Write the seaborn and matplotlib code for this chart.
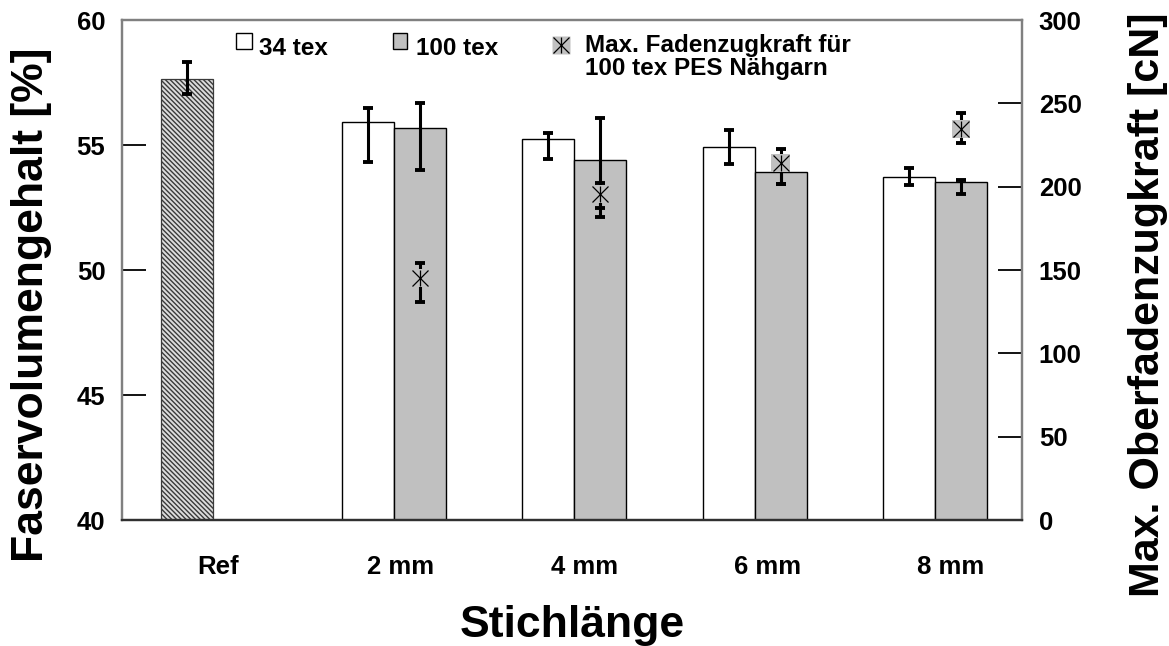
import numpy as np
import pandas as pd
import matplotlib
matplotlib.use("Agg")
import matplotlib.pyplot as plt
import seaborn as sns
from matplotlib.patches import Rectangle

# --- data -------------------------------------------------------------
categories = ["Ref", "2 mm", "4 mm", "6 mm", "8 mm"]
series = ["34 tex", "100 tex"]

ref_value = 57.65
ref_lo, ref_hi = 57.03, 58.34

tex34 = [55.93, 55.23, 54.94, 53.73]
tex34_lo = [54.33, 54.46, 54.23, 53.39]
tex34_hi = [56.49, 55.49, 55.62, 54.10]

tex100 = [55.69, 54.39, 53.93, 53.51]
tex100_lo = [54.02, 52.48, 53.45, 53.04]
tex100_hi = [56.69, 56.10, 54.02, 53.59]

force = [145.0, 195.4, 214.3, 234.5]
force_lo = [130.9, 182.1, 201.4, 226.0]
force_hi = [154.0, 202.2, 222.9, 244.0]

left_ticks = [40, 45, 50, 55, 60]
right_ticks = [0, 50, 100, 150, 200, 250, 300]

# --- long table for seaborn ------------------------------------------
rows = [{"Stichlänge": categories[0], "Garn": series[0], "FVG": ref_value}]
for cat, v34, v100 in zip(categories[1:], tex34, tex100):
    rows.append({"Stichlänge": cat, "Garn": series[0], "FVG": v34})
    rows.append({"Stichlänge": cat, "Garn": series[1], "FVG": v100})
df = pd.DataFrame(rows)

# --- styling ----------------------------------------------------------
sns.set_theme(style="white")
plt.rcParams["font.family"] = ["Liberation Sans", "DejaVu Sans"]
plt.rcParams["font.weight"] = "bold"
plt.rcParams["axes.labelweight"] = "bold"
plt.rcParams["text.color"] = "black"
plt.rcParams["axes.labelcolor"] = "black"
plt.rcParams["xtick.color"] = "black"
plt.rcParams["ytick.color"] = "black"

WHITE = "#ffffff"
GREY = "#c0c0c0"
FRAME = "#808080"
group_width = 0.577

fig = plt.figure(figsize=(11.69, 6.46), dpi=100)
ax = fig.add_axes([0.1044, 0.195, 0.77, 0.774])

sns.barplot(data=df, x="Stichlänge", y="FVG", hue="Garn", order=categories,
            hue_order=series, palette=[WHITE, GREY], width=group_width,
            edgecolor="black", linewidth=1.0, errorbar=None, legend=False,
            ax=ax, zorder=2)

# the reference bar gets a fine texture
ref_patch = min(ax.patches, key=lambda p: p.get_x())
ref_patch.set_facecolor("#dcdcdc")
ref_patch.set_hatch("\\\\\\\\\\\\\\")
ref_patch.set_edgecolor("#3a3a3a")
ref_patch.set_linewidth(0.9)

# bar positions follow the dodge used by seaborn
idx = np.arange(1, len(categories))
off = group_width / 4
x34 = idx - off
x100 = idx + off

eb = dict(fmt="none", ecolor="black", elinewidth=2.2, capsize=3.3,
          capthick=2.8, zorder=4)
ax.errorbar([0 - off], [ref_value],
            yerr=[[ref_value - ref_lo], [ref_hi - ref_value]], **eb)
ax.errorbar(x34, tex34,
            yerr=[np.subtract(tex34, tex34_lo), np.subtract(tex34_hi, tex34)], **eb)
ax.errorbar(x100, tex100,
            yerr=[np.subtract(tex100, tex100_lo), np.subtract(tex100_hi, tex100)], **eb)

ax.set_ylim(40, 60)
ax.set_xlim(-0.507, 4.484)
ax.set_yticks(left_ticks)
ax.set_yticklabels([str(t) for t in left_ticks])
ax.set_xticks(np.arange(len(categories)) * 1.015 + 0.025)
ax.set_xticklabels(categories)
ax.tick_params(axis="y", direction="in", length=17, width=1.3, color="black",
               labelsize=18.5, pad=12, left=True)
ax.tick_params(axis="x", length=0, labelsize=18.5, pad=25)
ax.set_xlabel("Stichlänge", fontsize=32, fontweight="bold", labelpad=19)
ax.set_ylabel("Faservolumengehalt [%]", fontsize=32, fontweight="bold")
ax.yaxis.set_label_coords(-0.078, 0.43)
for side, sp in ax.spines.items():
    sp.set_visible(True)
    sp.set_color(FRAME)
    sp.set_linewidth(1.6)
ax.spines["bottom"].set_color("#303030")

# --- secondary axis: thread tension ------------------------------------
ax2 = ax.twinx()
ax2.set_ylim(0, 300)
ax2.set_yticks(right_ticks)
ax2.set_yticklabels([str(t) for t in right_ticks])
ax2.tick_params(axis="y", direction="in", length=17, width=1.3, color="black",
                labelsize=18.5, pad=12, right=True)
ax2.set_ylabel("Max. Oberfadenzugkraft [cN]", fontsize=31, fontweight="bold",
               rotation=90)
ax2.yaxis.set_label_coords(1.118, 0.43)
for sp in ax2.spines.values():
    sp.set_color(FRAME)
    sp.set_linewidth(1.6)
ax2.spines["bottom"].set_color("#303030")

ax2.errorbar(x100, force,
             yerr=[np.subtract(force, force_lo), np.subtract(force_hi, force)],
             fmt="none", ecolor="black", elinewidth=2.2, capsize=3.3,
             capthick=2.8, zorder=3)
sns.scatterplot(x=x100, y=force, marker="s", s=170, color=GREY,
                edgecolor="none", ax=ax2, zorder=5, legend=False)
for m in ("x", "|"):
    ax2.plot(x100, force, linestyle="none", marker=m, markersize=12,
             markeredgecolor="black", markeredgewidth=0.9, zorder=6)

# --- legend -------------------------------------------------------------
def ax_xy(px, py):
    return (px - 122) / 900, (520 - py) / 500

for (px0, py0, px1, py1), fc in [((236, 33, 252, 49), WHITE),
                                 ((393, 33, 407, 49), GREY)]:
    x0, y1 = ax_xy(px0, py0)
    x1, y0 = ax_xy(px1, py1)
    ax.add_patch(Rectangle((x0, y0), x1 - x0, y1 - y0, transform=ax.transAxes,
                           facecolor=fc, edgecolor="black", linewidth=1.0,
                           zorder=6, clip_on=False))

lx, ly = ax_xy(561, 45)
ax.plot([lx], [ly], transform=ax.transAxes, marker="s", markersize=13.5,
        color=GREY, markeredgecolor="none", linestyle="none", zorder=6)
for m in ("x", "|"):
    ax.plot([lx], [ly], transform=ax.transAxes, marker=m, markersize=12,
            markeredgecolor="black", markeredgewidth=0.9, linestyle="none",
            zorder=7)

for txt, px, py in [("34 tex", 259, 55), ("100 tex", 416, 55),
                    ("Max. Fadenzugkraft für", 585, 52),
                    ("100 tex PES Nähgarn", 585, 75)]:
    tx, ty = ax_xy(px, py)
    ax.text(tx, ty, txt, transform=ax.transAxes, fontsize=17.5,
            fontweight="bold", va="baseline", ha="left", zorder=7)

fig.savefig("out.png", dpi=100)
